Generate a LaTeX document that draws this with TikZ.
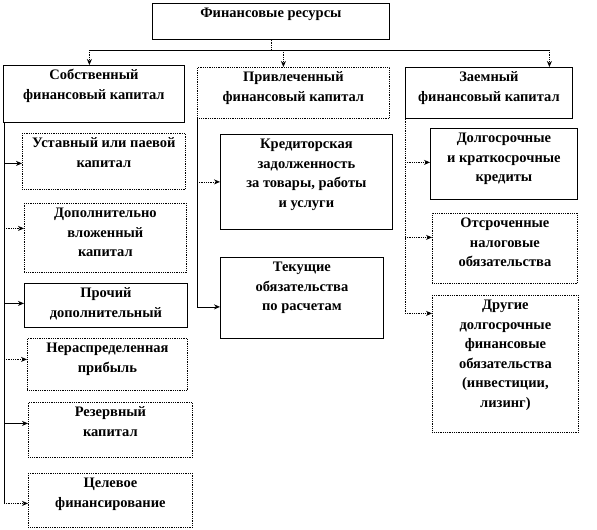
\documentclass[tikz,border=0pt]{standalone}
\usepackage{fontspec}
\setmainfont{Liberation Serif}
\usepackage{tikz}
\usetikzlibrary{arrows.meta, positioning, calc}

% box content: width, height, lines (top aligned)
\newcommand{\cell}[3]{\parbox[t][#2pt][t]{#1pt}{\centering\rule{0pt}{14.5pt}#3}}

\begin{document}
\begin{tikzpicture}[x=1pt, y=-1pt, >=Stealth,
    box/.style={draw, line width=0.8pt, inner sep=0pt, anchor=north west,
                font=\fontsize{14.5}{19.5}\selectfont\bfseries},
    dbox/.style={box, densely dotted},
    link/.style={line width=0.8pt},
    dlink/.style={link, densely dotted},
    tip/.style={-{Stealth[length=6pt, width=5pt]}}]

  \useasboundingbox (0,0) rectangle (597,530);

  % top level
  \node[box] (fin) at (152,3) {\cell{237}{36}{Финансовые ресурсы}};

  \node[box]  (sob)  at (3,65)   {\cell{181}{57}{Собственный\\финансовый капитал}};
  \node[dbox] (priv) at (197,67) {\cell{192}{51}{Привлеченный\\финансовый капитал}};
  \node[box]  (zaem) at (405,67) {\cell{167}{51}{Заемный\\финансовый капитал}};

  % own capital
  \node[dbox] (ust)   at (22,133) {\cell{163}{56}{Уставный или паевой\\капитал}};
  \node[dbox] (dop)   at (24,203) {\cell{162}{69}{Дополнительно\\вложенный\\капитал}};
  \node[box]  (proch) at (24,283) {\cell{163}{44}{Прочий\\дополнительный}};
  \node[dbox] (neras) at (27,338) {\cell{160}{52}{Нераспределенная\\прибыль}};
  \node[dbox] (rez)   at (28,402) {\cell{164}{55}{Резервный\\капитал}};
  \node[dbox] (cel)   at (28,473) {\cell{164}{54}{Целевое\\финансирование}};

  % attracted capital
  \node[box] (kred) at (220,134) {\cell{172}{95}{Кредиторская\\задолженность\\за товары, работы\\и услуги}};
  \node[box] (tek)  at (220,257) {\cell{163}{81}{Текущие\\обязательства\\по расчетам}};

  % borrowed capital
  \node[box]  (dolg) at (430,128) {\cell{147}{71}{Долгосрочные\\и краткосрочные\\кредиты}};
  \node[dbox] (otsr) at (432,213) {\cell{145}{70}{Отсроченные\\налоговые\\обязательства}};
  \node[dbox] (drug) at (432,295) {\cell{146}{137}{Другие\\долгосрочные\\финансовые\\обязательства\\(инвестиции,\\лизинг)}};

  % bus from the top box
  \coordinate (bus) at (0,50);
  \draw[dlink] (fin.south) -- (fin.south |- bus);
  \draw[link] ([xshift=-4.5pt]sob.north |- bus) -- ([xshift=60.5pt]zaem.north |- bus);
  \draw[dlink, tip] ([xshift=-4.5pt]sob.north |- bus) -- ([xshift=-4.5pt]sob.north);
  \draw[dlink, tip] ([xshift=-10pt]priv.north |- bus) -- ([xshift=-10pt]priv.north);
  \draw[dlink, tip] ([xshift=60.5pt]zaem.north |- bus) -- ([xshift=60.5pt]zaem.north);

  % left trunk
  \coordinate (lt) at ([xshift=1pt]sob.south west);
  \draw[link] (lt) -- ([yshift=-3pt]lt |- cel.west);
  \draw[link, tip]  ([yshift=-2pt]lt |- ust.west)    -- ([yshift=-2pt]ust.west);
  \draw[dlink, tip] ([yshift=9.5pt]lt |- dop.west)   -- ([yshift=9.5pt]dop.west);
  \draw[link, tip]  ([yshift=2pt]lt |- proch.west)   -- ([yshift=2pt]proch.west);
  \draw[dlink, tip] ([yshift=5pt]lt |- neras.west)   -- ([yshift=5pt]neras.west);
  \draw[link, tip]  ([yshift=6.5pt]lt |- rez.west)   -- ([yshift=6.5pt]rez.west);
  \draw[dlink, tip] ([yshift=-3pt]lt |- cel.west)    -- ([yshift=-3pt]cel.west);

  % middle trunk
  \draw[link] (priv.south west) -- ([yshift=-9pt]priv.south west |- tek.west);
  \draw[dlink, tip] (priv.south west |- kred.west) -- (kred.west);
  \draw[link, tip]  ([yshift=-9pt]priv.south west |- tek.west) -- ([yshift=-9pt]tek.west);

  % right trunk
  \draw[dlink] (zaem.south west) -- ([yshift=50.5pt]zaem.south west |- drug.west);
  \draw[dlink, tip] ([yshift=1.5pt]zaem.south west |- dolg.west) -- ([yshift=1.5pt]dolg.west);
  \draw[dlink, tip] ([yshift=11pt]zaem.south west |- otsr.west)  -- ([yshift=11pt]otsr.west);
  \draw[dlink, tip] ([yshift=50.5pt]zaem.south west |- drug.west) -- ([yshift=50.5pt]drug.west);

\end{tikzpicture}
\end{document}
